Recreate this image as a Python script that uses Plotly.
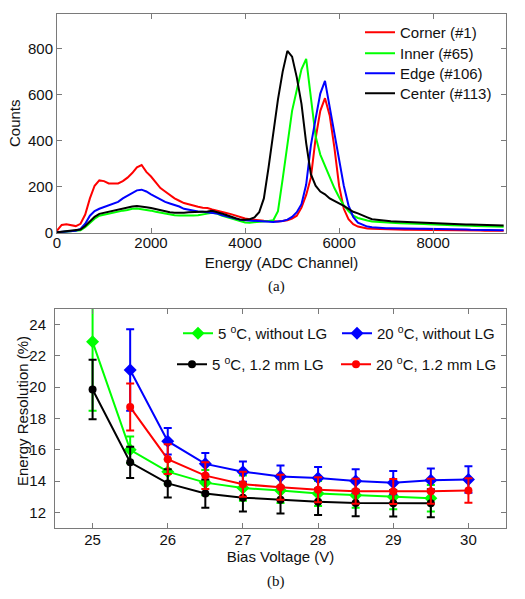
import plotly.graph_objects as go

# ---------------- Data: (a) spectra ----------------
energy = list(range(0, 9600, 100))

corner_1 = [10, 35, 38, 35, 30, 40, 80, 150, 205, 228,
            225, 215, 215, 215, 225, 240, 260, 285, 295, 265,
            245, 220, 195, 180, 165, 150, 140, 130, 125, 118,
            114, 110, 108, 102, 98, 92, 87, 82, 75, 68,
            63, 60, 57, 55, 53, 52, 50, 50, 52, 55,
            62, 75, 110, 165, 240, 410, 530, 585, 510, 370,
            205, 105, 60, 38, 28, 23, 20, 18, 17, 16,
            16, 15, 15, 15, 14, 14, 14, 13, 13, 13,
            13, 12, 12, 12, 12, 12, 11, 11, 11, 11,
            11, 10, 10, 10, 10, 10]

inner_65 = [2, 4, 5, 6, 8, 12, 25, 45, 62, 75,
            80, 85, 88, 92, 97, 100, 105, 106, 104, 100,
            97, 92, 88, 83, 80, 77, 76, 75, 75, 76,
            77, 79, 84, 88, 84, 76, 70, 62, 55, 49,
            46, 45, 46, 48, 50, 52, 55, 95, 235, 390,
            530, 620, 710, 755, 590, 420, 340, 290, 245, 195,
            155, 120, 95, 75, 65, 58, 54, 50, 48, 46,
            45, 44, 43, 42, 42, 42, 41, 40, 39, 38,
            38, 37, 36, 35, 34, 34, 33, 32, 31, 30,
            30, 29, 29, 28, 28, 27]

edge_106 = [3, 5, 5, 7, 10, 18, 40, 75, 95, 105,
            112, 118, 128, 135, 150, 162, 175, 185, 188, 180,
            168, 157, 145, 135, 128, 122, 115, 105, 100, 96,
            93, 92, 90, 88, 85, 78, 72, 68, 62, 57,
            55, 54, 52, 50, 48, 48, 48, 50, 52, 58,
            70, 90, 125, 210, 380, 495, 605, 660, 545, 440,
            330, 205, 120, 70, 45, 35, 28, 25, 23, 22,
            21, 21, 20, 20, 19, 19, 19, 18, 18, 18,
            17, 17, 16, 16, 16, 15, 15, 15, 14, 14,
            13, 13, 13, 12, 12, 12]

center_113 = [3, 5, 6, 8, 10, 15, 30, 50, 70, 83,
              88, 92, 96, 100, 105, 110, 115, 117, 116, 112,
              108, 103, 98, 93, 90, 88, 87, 88, 90, 91,
              90, 90, 93, 96, 92, 85, 78, 70, 64, 58,
              57, 60, 68, 90, 150, 285, 440, 580, 700, 790,
              765, 675, 560, 390, 255, 205, 180, 168, 150, 140,
              128, 118, 105, 92, 85, 75, 68, 60, 57, 54,
              52, 51, 50, 49, 48, 46, 45, 45, 44, 43,
              42, 42, 41, 40, 39, 38, 38, 37, 37, 36,
              35, 35, 34, 33, 33, 32]

spectra_names = ["Corner (#1)", "Inner (#65)", "Edge (#106)", "Center (#113)"]
spectra_colors = ["#FF0000", "#00FF00", "#0000FF", "#000000"]

# ---------------- Data: (b) energy resolution ----------------
bias_5C = [25, 25.5, 26, 26.5, 27, 27.5, 28, 28.5, 29, 29.5]
bias_20C = [25.5, 26, 26.5, 27, 27.5, 28, 28.5, 29, 29.5, 30]

res_5C_noLG = [22.9, 16.0, 14.6, 13.9, 13.55, 13.4, 13.2, 13.1, 13.0, 12.9]
err_5C_noLG = [4.4, 0.85, 0.8, 0.8, 0.8, 0.8, 0.8, 0.8, 0.8, 0.85]

res_20C_noLG = [21.1, 16.55, 15.1, 14.6, 14.3, 14.2, 14.0, 13.9, 14.05, 14.1]
err_20C_noLG = [2.6, 0.85, 0.7, 0.65, 0.7, 0.7, 0.75, 0.75, 0.75, 0.85]

res_5C_LG = [19.85, 15.2, 13.85, 13.2, 12.94, 12.8, 12.68, 12.6, 12.58, 12.58]
err_5C_LG = [1.9, 1.0, 0.9, 0.9, 0.88, 0.87, 0.85, 0.85, 0.85, 0.9]

res_20C_LG = [18.73, 15.4, 14.35, 13.8, 13.6, 13.45, 13.35, 13.33, 13.35, 13.4]
err_20C_LG = [1.5, 0.95, 0.85, 0.8, 0.8, 0.8, 0.8, 0.8, 0.8, 0.78]

W, H = 525, 599
FONT = "Liberation Sans, Arial, Helvetica, sans-serif"
SERIF = "Liberation Serif, Times New Roman, serif"

fig = go.Figure()

# one single-entry legend per series so rows/columns match the reference layout
spec_legends = ["legend", "legend3", "legend4", "legend5"]
for name, ys, col, lg in zip(spectra_names, [corner_1, inner_65, edge_106, center_113],
                             spectra_colors, spec_legends):
    fig.add_trace(go.Scatter(x=energy, y=ys, mode="lines", name=name,
                             line=dict(color=col, width=2),
                             xaxis="x", yaxis="y", legend=lg))

res_series = [
    ("5 <sup>o</sup>C, without LG", bias_5C, res_5C_noLG, err_5C_noLG, "#00FF00", "diamond", 10, "legend2"),
    ("20 <sup>o</sup>C, without LG", bias_20C, res_20C_noLG, err_20C_noLG, "#0000FF", "diamond", 10, "legend6"),
    ("5 <sup>o</sup>C, 1.2 mm LG", bias_5C, res_5C_LG, err_5C_LG, "#000000", "circle", 8, "legend7"),
    ("20 <sup>o</sup>C, 1.2 mm LG", bias_20C, res_20C_LG, err_20C_LG, "#FF0000", "circle", 8, "legend8"),
]
for name, xs, ys, es, col, sym, sz, lg in res_series:
    fig.add_trace(go.Scatter(x=xs, y=ys, mode="lines+markers", name=name,
                             line=dict(color=col, width=2),
                             marker=dict(color=col, symbol=sym, size=sz),
                             error_y=dict(type="data", array=es, visible=True,
                                          color=col, thickness=2, width=4),
                             xaxis="x2", yaxis="y2", legend=lg))

axis_common = dict(showline=True, linecolor="#7a7a7a", linewidth=1, mirror="ticks",
                   ticks="inside", ticklen=5, tickcolor="#7a7a7a", showgrid=False,
                   zeroline=False, automargin=False,
                   tickfont=dict(family=FONT, size=15, color="#111"))

legend_common = dict(xanchor="left", yanchor="top", bgcolor="rgba(255,255,255,0)",
                     borderwidth=0, font=dict(family=FONT, size=15, color="#111"))

def leg(left_px, top_px):
    return dict(x=left_px / W, y=1 - top_px / H, **legend_common)

fig.update_layout(
    width=W, height=H,
    margin=dict(l=0, r=0, t=0, b=0, autoexpand=False),
    paper_bgcolor="white", plot_bgcolor="white",
    font=dict(family=FONT, size=15, color="#111"),
    xaxis=dict(domain=[57 / W, 506 / W], anchor="y", range=[0, 9550],
               tickvals=[0, 2000, 4000, 6000, 8000], ticklabelstandoff=-4,
               title=dict(text="Energy (ADC Channel)", font=dict(family=FONT, size=15), standoff=7),
               **axis_common),
    yaxis=dict(domain=[1 - 233 / H, 1 - 14 / H], anchor="x", range=[0, 950],
               tickvals=[0, 200, 400, 600, 800], ticklabelstandoff=0,
               **axis_common),
    xaxis2=dict(domain=[55 / W, 506 / W], anchor="y2", range=[24.5, 30.5],
                tickvals=[25, 26, 27, 28, 29, 30], ticklabelstandoff=-2,
                title=dict(text="Bias Voltage (V)", font=dict(family=FONT, size=15), standoff=1),
                **axis_common),
    yaxis2=dict(domain=[1 - 528 / H, 1 - 309 / H], anchor="x2", range=[11, 25],
                tickvals=[12, 14, 16, 18, 20, 22, 24], ticklabelstandoff=5,
                **axis_common),
    legend=leg(360, 16),
    legend3=leg(360, 37),
    legend4=leg(360, 57),
    legend5=leg(360, 77),
    legend2=leg(178, 317),
    legend6=leg(337, 317),
    legend7=leg(172, 348),
    legend8=leg(336, 348),
    showlegend=True,
    annotations=[
        dict(text="Counts", x=14 / W, y=1 - 123 / H, xref="paper", yref="paper",
             textangle=-90, showarrow=False, xanchor="center", yanchor="middle",
             font=dict(family=FONT, size=15, color="#111")),
        dict(text="Energy Resolution (%)", x=22 / W, y=1 - 411 / H, xref="paper", yref="paper",
             textangle=-90, showarrow=False, xanchor="center", yanchor="middle",
             font=dict(family=FONT, size=15, color="#111")),
        dict(text="(a)", x=276 / W, y=1 - 286 / H, xref="paper", yref="paper",
             showarrow=False, xanchor="center", yanchor="middle",
             font=dict(family=SERIF, size=15, color="#111")),
        dict(text="(b)", x=276 / W, y=1 - 581 / H, xref="paper", yref="paper",
             showarrow=False, xanchor="center", yanchor="middle",
             font=dict(family=SERIF, size=15, color="#111")),
    ],
)

fig.write_html("out.html", config={"displayModeBar": False},
               post_script="document.body.style.margin='0px';")
